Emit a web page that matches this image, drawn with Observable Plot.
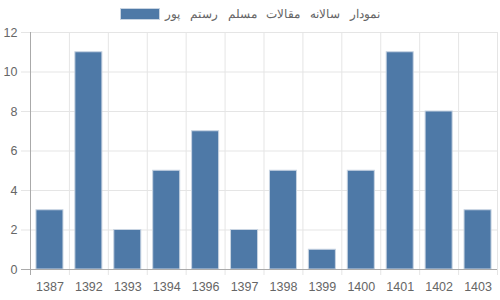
<!DOCTYPE html>
<html><head><meta charset="utf-8">
<script src="https://cdn.jsdelivr.net/npm/d3@7"></script>
<script src="https://cdn.jsdelivr.net/npm/@observablehq/plot@0.6"></script>
<style>
body{margin:0;background:#fff;font-family:"Liberation Sans",Arial,sans-serif;}
#legend{height:24px;padding-top:3px;box-sizing:border-box;display:flex;align-items:center;justify-content:center;gap:5px;font-size:12px;color:#666;}
#legend .sw{width:40px;height:12px;background:#4e79a7;border:1px solid #c8d4e2;box-sizing:border-box;}
#legend .lbl{word-spacing:6.5px;}
</style></head><body>
<div id="legend"><span class="sw"></span><span class="lbl">نمودار سالانه مقالات مسلم رستم پور</span></div>
<div id="chart"></div>
<script>
const years = ["1387","1392","1393","1394","1396","1397","1398","1399","1400","1401","1402","1403"];
const counts = [3, 11, 2, 5, 7, 2, 5, 1, 5, 11, 8, 3];
const yTicks = [0, 2, 4, 6, 8, 10, 12];

const data = years.map((y, i) => ({year: y, count: counts[i]}));
const W = 500, H = 276, mL = 30, mR = 3, mT = 8, mB = 31;
const step = (W - mL - mR) / years.length;

const chart = Plot.plot({
  width: W, height: H,
  marginLeft: mL, marginRight: mR, marginTop: mT, marginBottom: mB,
  style: {fontFamily: "Liberation Sans, Arial, sans-serif", fontSize: "12px", color: "#666", background: "#fff"},
  x: {domain: years, paddingInner: 0.28, paddingOuter: 0.14, round: false, label: null, axis: null},
  y: {domain: [0, 12], ticks: yTicks, label: null, axis: null},
  marks: [
    Plot.ruleY(yTicks, {stroke: "#e5e5e5", strokeWidth: 1, insetLeft: -9}),
    Plot.ruleX(years, {x: d => d, dx: -step / 2, stroke: "#e5e5e5", insetBottom: -6}),
    Plot.ruleX([years[years.length - 1]], {x: d => d, dx: step / 2, stroke: "#e5e5e5", insetBottom: -6}),
    Plot.barY(data, {x: "year", y: "count", fill: "#4e79a7", stroke: "#c8d4e2", strokeWidth: 1, insetLeft: 0.5, insetRight: 0.5}),
    Plot.ruleY([0], {stroke: "#aaa", insetLeft: -9}),
    Plot.ruleX([years[0]], {x: d => d, dx: -step / 2, stroke: "#aaa", insetBottom: -6}),
    Plot.text(yTicks, {y: d => d, frameAnchor: "left", dx: -13, textAnchor: "end", text: d => String(d), fill: "#666", fontSize: 12.5}),
    Plot.text(years, {x: d => d, y: 0, dy: 17, text: d => d, fill: "#666", fontSize: 12.5})
  ]
});
document.getElementById("chart").appendChild(chart);
</script>
</body></html>
